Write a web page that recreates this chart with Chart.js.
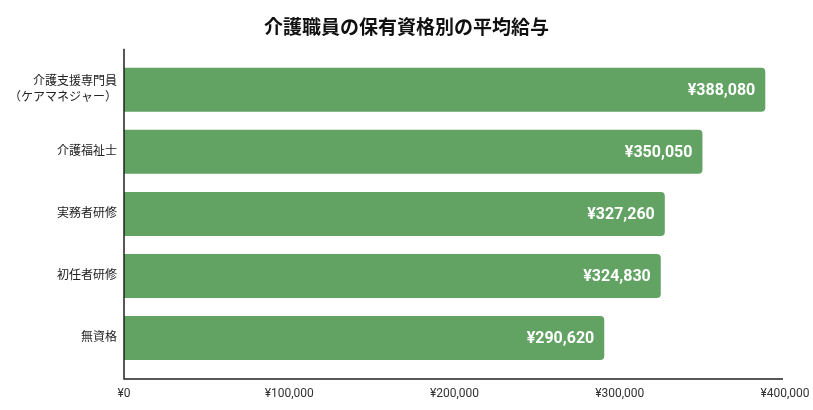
<!DOCTYPE html>
<html>
<head>
<meta charset="utf-8">
<script src="https://cdn.jsdelivr.net/npm/chart.js@4"></script>
<style>
  html, body { margin: 0; padding: 0; background: #fff; }
  #wrap { width: 813px; height: 410px; }
</style>
</head>
<body>
<div id="wrap"><canvas id="salaryChart"></canvas></div>
<script>
const categories = [
    ['介護支援専門員', '（ケアマネジャー）'],
    '介護福祉士',
    '実務者研修',
    '初任者研修',
    '無資格'
];
const salaries = [388080, 350050, 327260, 324830, 290620];
const xTicks = [0, 100000, 200000, 300000, 400000];

const FONT = "Roboto, 'Noto Sans CJK JP', sans-serif";
const yen = v => '¥' + Number(v).toLocaleString('en-US');

// 棒の中に金額ラベル
const valueLabels = {
    id: 'valueLabels',
    afterDatasetsDraw(chart) {
        const ctx = chart.ctx;
        const meta = chart.getDatasetMeta(0);
        ctx.save();
        ctx.fillStyle = '#ffffff';
        ctx.font = 'bold 16px ' + FONT;
        ctx.textAlign = 'right';
        ctx.textBaseline = 'middle';
        meta.data.forEach((bar, i) => {
            ctx.fillText(yen(salaries[i]), bar.x - 10, bar.y + 1);
        });
        ctx.restore();
    }
};

// 軸線（プロット領域より少し長く描く）
const axisLines = {
    id: 'axisLines',
    afterDraw(chart) {
        const { ctx, chartArea } = chart;
        const ext = 10;
        ctx.save();
        ctx.strokeStyle = '#222';
        ctx.lineWidth = 1.5;
        ctx.beginPath();
        ctx.moveTo(chartArea.left, chartArea.top - ext);
        ctx.lineTo(chartArea.left, chartArea.bottom + ext);
        ctx.lineTo(chartArea.right - 2, chartArea.bottom + ext);
        ctx.stroke();
        ctx.restore();
    }
};

new Chart(document.getElementById('salaryChart').getContext('2d'), {
    type: 'bar',
    data: {
        labels: categories,
        datasets: [{
            data: salaries,
            backgroundColor: '#62a363',
            borderRadius: 4,
            barPercentage: 44 / 62,
            categoryPercentage: 1
        }]
    },
    options: {
        indexAxis: 'y',
        responsive: true,
        maintainAspectRatio: false,
        animation: false,
        layout: { padding: 0 },
        scales: {
            x: {
                min: 0,
                max: 400000,
                afterBuildTicks(scale) { scale.ticks = xTicks.map(v => ({ value: v })); },
                afterFit(scale) {
                    scale.height = 41;
                    scale.paddingLeft = 0;
                    scale.paddingRight = 28;
                },
                grid: { display: false, drawTicks: false },
                border: { display: false },
                ticks: {
                    padding: 18,
                    color: '#333',
                    font: { family: FONT, size: 12 },
                    callback: v => yen(v)
                }
            },
            y: {
                afterFit(scale) { scale.width = 124; },
                grid: { display: false, drawTicks: false },
                border: { display: false },
                ticks: {
                    padding: 7,
                    color: '#222',
                    font: { family: FONT, size: 12, lineHeight: 1.3 }
                }
            }
        },
        plugins: {
            legend: { display: false },
            tooltip: { enabled: false },
            title: {
                display: true,
                text: '介護職員の保有資格別の平均給与',
                color: '#111',
                font: { family: FONT, size: 19, weight: 'bold' },
                padding: { top: 18, bottom: 18 }
            }
        }
    },
    plugins: [valueLabels, axisLines]
});
</script>
</body>
</html>
